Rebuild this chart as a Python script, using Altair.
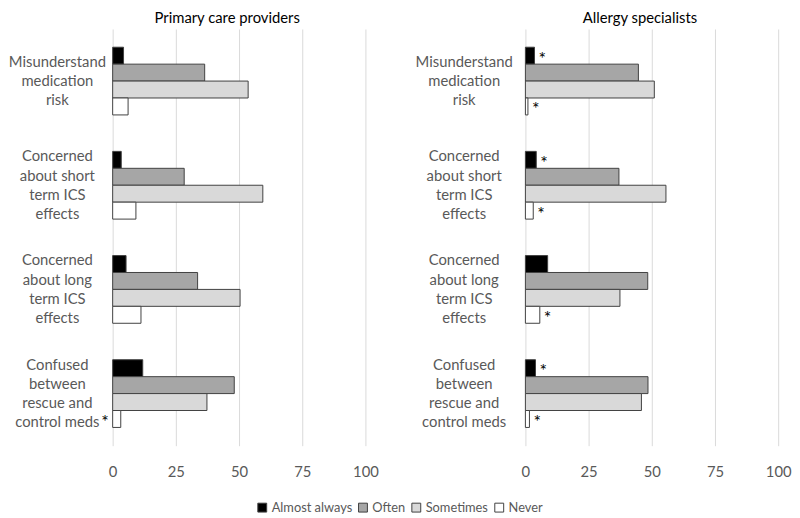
import altair as alt
import pandas as pd

categories = [
    "Misunderstand|medication|risk",
    "Concerned|about short|term ICS|effects",
    "Concerned|about long|term ICS|effects",
    "Confused|between|rescue and|control meds",
]
series = ["Almost always", "Often", "Sometimes", "Never"]
colors = ["#000000", "#a6a6a6", "#d9d9d9", "#ffffff"]

pcp_values = [
    [4.3, 36.4, 53.6, 6.1],
    [3.4, 28.3, 59.4, 9.2],
    [5.3, 33.6, 50.4, 11.2],
    [11.9, 48.1, 37.3, 3.2],
]
allergy_values = [
    [3.6, 44.7, 51.0, 1.0],
    [4.3, 37.0, 55.6, 3.1],
    [8.8, 48.4, 37.4, 5.7],
    [4.0, 48.5, 45.9, 1.6],
]
pcp_stars = [
    ["", "", "", ""],
    ["", "", "", ""],
    ["", "", "", ""],
    ["", "", "", "left"],
]
allergy_stars = [
    ["right", "", "", "right"],
    ["right", "", "", "right"],
    ["", "", "", "right"],
    ["right", "", "", "right"],
]
x_ticks = [0, 25, 50, 75, 100]

FONT = "Lato"
GRAY = "#595959"
LINE_H = 19.5


def build_df(values, stars):
    rows = []
    for ci, cat in enumerate(categories):
        for si, s in enumerate(series):
            rows.append({"category": cat, "series": s,
                         "value": values[ci][si], "star": stars[ci][si]})
    return pd.DataFrame(rows)


def label_df():
    rows = []
    for cat in categories:
        lines = cat.split("|")
        n = len(lines)
        for i, ln in enumerate(lines):
            rows.append({"category": cat, "line": ln,
                         "dy": (i - (n - 1) / 2) * LINE_H})
    return pd.DataFrame(rows)


def panel(values, stars, title, label_center):
    df = build_df(values, stars)
    base = alt.Chart(df)
    yscale = alt.Scale(paddingInner=0.35, paddingOuter=0.175)
    y = alt.Y("category:N", sort=categories, scale=yscale,
              axis=alt.Axis(title=None, labels=False, ticks=False, domain=False))
    yo = alt.YOffset("series:N", sort=series,
                     scale=alt.Scale(paddingInner=0, paddingOuter=0))
    x = alt.X("value:Q", scale=alt.Scale(domain=[0, 100], nice=False),
              axis=alt.Axis(title=None, values=x_ticks, ticks=False, domain=False,
                            grid=True, gridColor="#d9d9d9", labelFontSize=15,
                            labelFont=FONT, labelColor=GRAY, labelPadding=19,
                            labelFlush=False))
    bars = base.mark_bar(stroke="#404040", strokeWidth=1).encode(
        x=x, y=y, yOffset=yo,
        color=alt.Color("series:N", sort=series,
                        scale=alt.Scale(domain=series, range=colors),
                        legend=alt.Legend(title=None, orient="none", direction="horizontal",
                                          legendX=145, legendY=478,
                                          symbolType="square", symbolSize=81,
                                          symbolStrokeColor="#404040", symbolStrokeWidth=1,
                                          labelFontSize=13, labelFont=FONT,
                                          labelColor=GRAY, columnPadding=4,
                                          labelOffset=3)),
    )
    right = base.transform_filter("datum.star == 'right'").mark_text(
        text="*", align="left", baseline="middle", dx=4, dy=4, fontSize=18,
        font=FONT, color="#000000").encode(
            x="value:Q", y=alt.Y("category:N", sort=categories, axis=None),
            yOffset=alt.YOffset("series:N", sort=series))
    left = base.transform_filter("datum.star == 'left'").mark_text(
        text="*", align="right", baseline="middle", dx=-4, dy=4, fontSize=18,
        font=FONT, color="#000000").encode(
            x=alt.datum(0), y=alt.Y("category:N", sort=categories, axis=None),
            yOffset=alt.YOffset("series:N", sort=series))

    ldf = label_df()
    lbase = alt.Chart(ldf)
    label_layers = []
    for d in sorted(ldf["dy"].unique()):
        label_layers.append(
            lbase.transform_filter(alt.datum.dy == float(d)).mark_text(
                align="center", baseline="middle", dy=float(d), fontSize=15,
                font=FONT, color=GRAY).encode(
                    x=alt.value(-label_center),
                    y=alt.Y("category:N", sort=categories, axis=None),
                    text="line:N"))

    return alt.layer(bars, right, left, *label_layers).properties(
        width=256, height=422,
        title=alt.TitleParams(title, fontSize=15, font=FONT, color="#000000",
                              fontWeight="normal", anchor="middle", dx=-12, offset=3))


left_chart = panel(pcp_values, pcp_stars, "Primary care providers", 56)
right_chart = panel(allergy_values, allergy_stars, "Allergy specialists", 62)

chart = alt.hconcat(left_chart, right_chart, spacing=162, bounds="flush").properties(
    padding={"top": 0, "left": 0, "right": 0, "bottom": 0}
).configure_view(stroke=None)

chart.save("out.html", embed_options={"renderer": "svg", "actions": False})
